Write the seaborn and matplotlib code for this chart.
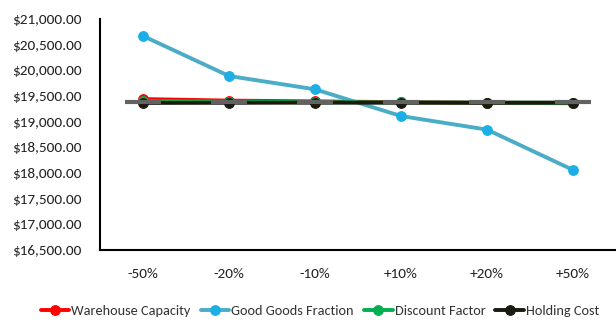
import matplotlib
matplotlib.use("Agg")
import matplotlib.pyplot as plt
import seaborn as sns
import pandas as pd

categories = ["-50%", "-20%", "-10%", "+10%", "+20%", "+50%"]
warehouse_capacity = [19440, 19410, 19395, 19380, 19365, 19360]
good_goods_fraction = [20670, 19890, 19630, 19110, 18845, 18060]
discount_factor = [19400, 19390, 19380, 19375, 19370, 19365]
holding_cost = [19365, 19368, 19370, 19370, 19370, 19372]
reference_level = [19375, 19375, 19375, 19375, 19375, 19375]
yticks = [16500, 17000, 17500, 18000, 18500, 19000, 19500, 20000, 20500, 21000]

series = {
    "Warehouse Capacity": warehouse_capacity,
    "Good Goods Fraction": good_goods_fraction,
    "Discount Factor": discount_factor,
    "Holding Cost": holding_cost,
}
line_colors = {"Warehouse Capacity": "#FF0000", "Good Goods Fraction": "#4BACC6",
               "Discount Factor": "#00B050", "Holding Cost": "#1A1A10"}
marker_colors = {"Warehouse Capacity": "#FF0000", "Good Goods Fraction": "#1DAEE5",
                 "Discount Factor": "#00B050", "Holding Cost": "#1A1A10"}

rows = []
for name, vals in series.items():
    for c, v in zip(categories, vals):
        rows.append({"Change": c, "Cost": v, "Series": name})
df = pd.DataFrame(rows)

sns.set_theme(style="white")
plt.rcParams['font.family'] = ['Carlito', 'DejaVu Sans']

fig = plt.figure(figsize=(6.16, 3.23), dpi=100)
ax = fig.add_axes([100/616, 73/323, 1 - 100/616, (250 - 19)/323])

for i, name in enumerate(series):
    sub = df[df["Series"] == name]
    sns.lineplot(data=sub, x="Change", y="Cost", ax=ax, color=line_colors[name],
                 linewidth=2.8, marker="o", markersize=7,
                 markerfacecolor=marker_colors[name], markeredgecolor=marker_colors[name],
                 label=name, sort=False, zorder=2 + i)

ax.plot(categories, reference_level, color="#626262", linewidth=0, marker="_",
        markersize=26, markeredgewidth=3, zorder=10)

ax.set_xlim(-0.5, 5.5)
ax.set_ylim(16500, 21000)
ax.set_yticks(yticks)
ax.set_yticklabels([f"${v:,.2f}" for v in yticks])
ax.set_xlabel("")
ax.set_ylabel("")
ax.tick_params(axis="both", length=0, labelsize=11, colors="#222222")
ax.tick_params(axis="x", pad=13)
ax.tick_params(axis="y", pad=13)
for s in ["top", "right"]:
    ax.spines[s].set_visible(False)
for s in ["left", "bottom"]:
    ax.spines[s].set_color("black")
    ax.spines[s].set_linewidth(1.5)
ax.grid(False)

leg = ax.legend(loc="center", ncol=4, frameon=False,
                fontsize=10.3, handlelength=2.0, handletextpad=0.15, columnspacing=0.7)
leg.set_bbox_to_anchor((320/616, 12/323), transform=fig.transFigure)
for t in leg.get_texts():
    t.set_color("#333333")

fig.savefig("out.png", dpi=100)
